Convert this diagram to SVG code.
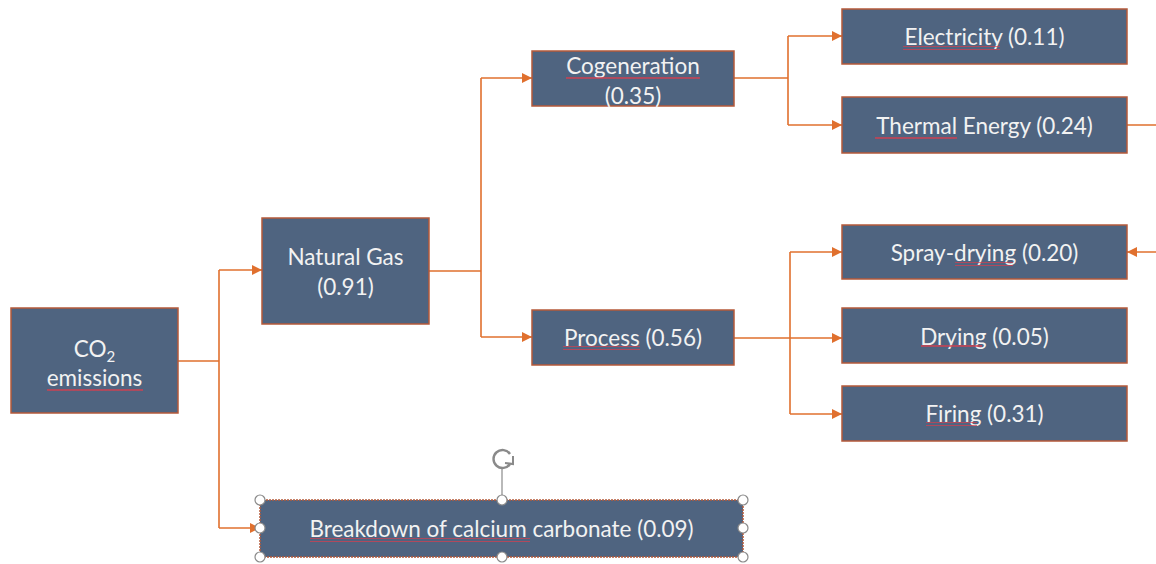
<svg xmlns="http://www.w3.org/2000/svg" width="1156" height="564" viewBox="0 0 1156 564">
<defs>
<style>
.box{fill:#4f6480;stroke:#b5593a;stroke-width:1.5}
.t{font-family:Lato,"Open Sans",sans-serif;font-size:22.5px;fill:#f2f2f2;text-anchor:middle}
.c{fill:none;stroke:#e0702e;stroke-width:1.6}
.h{fill:#ffffff;stroke:#8a8a8a;stroke-width:1.2}
</style>
<marker id="ar" viewBox="0 0 10 10" refX="10" refY="5" markerWidth="10" markerHeight="10" markerUnits="userSpaceOnUse" orient="auto">
<path d="M0,0 L10,5 L0,10 z" fill="#e0702e"/>
</marker>
<pattern id="wv" width="4" height="4" patternUnits="userSpaceOnUse">
<path d="M0,3 L1,1 L2,3 L3,1 L4,3" fill="none" stroke="#d04050" stroke-width="0.9"/>
</pattern>
</defs>
<rect width="1156" height="564" fill="#ffffff"/>

<g id="connectors">
<path class="c" d="M178,361 H219 M219,270 V528"/>
<path class="c" d="M219,270 H262" marker-end="url(#ar)"/>
<path class="c" d="M219,528 H260" marker-end="url(#ar)"/>
<path class="c" d="M429,271 H481 M481,78 V337"/>
<path class="c" d="M481,78 H532" marker-end="url(#ar)"/>
<path class="c" d="M481,337 H532" marker-end="url(#ar)"/>
<path class="c" d="M734,78 H788 M788,36 V125"/>
<path class="c" d="M788,36 H842" marker-end="url(#ar)"/>
<path class="c" d="M788,125 H842" marker-end="url(#ar)"/>
<path class="c" d="M734,338 H790 M790,252 V414"/>
<path class="c" d="M790,252 H842" marker-end="url(#ar)"/>
<path class="c" d="M790,338 H842" marker-end="url(#ar)"/>
<path class="c" d="M790,414 H842" marker-end="url(#ar)"/>
<path class="c" d="M1127,125 H1162 V252"/>
<path class="c" d="M1162,252 H1127" marker-end="url(#ar)"/>
</g>

<g id="co2">
<rect class="box" x="11" y="308" width="167" height="105"/>
<text class="t" x="94.5" y="357">CO<tspan font-size="15" dy="5">2</tspan></text>
<text class="t" x="94.5" y="386">emissions</text>
<rect x="47" y="388" width="96" height="4" fill="url(#wv)"/>
</g>

<g id="natural-gas">
<rect class="box" x="262" y="218" width="167" height="106"/>
<text class="t" x="345.5" y="265">Natural Gas</text>
<text class="t" x="345.5" y="295">(0.91)</text>
</g>

<g id="cogeneration">
<rect class="box" x="532" y="51" width="202" height="55"/>
<text class="t" x="633" y="74">Cogeneration</text>
<text class="t" x="633" y="104">(0.35)</text>
<rect x="566" y="75" width="134" height="4" fill="url(#wv)"/>
</g>

<g id="process">
<rect class="box" x="532" y="310" width="202" height="55"/>
<text class="t" x="633" y="346">Process (0.56)</text>
<rect x="563" y="346" width="77" height="4" fill="url(#wv)"/>
</g>

<g id="electricity">
<rect class="box" x="842" y="9" width="285" height="55"/>
<text class="t" x="984.5" y="45">Electricity (0.11)</text>
<rect x="903" y="46" width="97" height="4" fill="url(#wv)"/>
</g>

<g id="thermal-energy">
<rect class="box" x="842" y="97" width="285" height="56"/>
<text class="t" x="984.5" y="134">Thermal Energy (0.24)</text>
<rect x="875" y="135" width="82" height="4" fill="url(#wv)"/>
</g>

<g id="spray-drying">
<rect class="box" x="842" y="225" width="285" height="54"/>
<text class="t" x="984.5" y="261">Spray-drying (0.20)</text>
<rect x="955" y="262" width="58" height="4" fill="url(#wv)"/>
</g>

<g id="drying">
<rect class="box" x="842" y="308" width="285" height="55"/>
<text class="t" x="984.5" y="345">Drying (0.05)</text>
<rect x="921" y="345" width="61" height="4" fill="url(#wv)"/>
</g>

<g id="firing">
<rect class="box" x="842" y="386" width="285" height="55"/>
<text class="t" x="984.5" y="422">Firing (0.31)</text>
<rect x="926" y="422" width="51" height="4" fill="url(#wv)"/>
</g>

<g id="breakdown">
<rect class="box" x="260" y="500" width="483" height="57" stroke-dasharray="2 1"/>
<text class="t" x="501.5" y="537">Breakdown of calcium carbonate (0.09)</text>
<rect x="310" y="538" width="220" height="4" fill="url(#wv)"/>
<line x1="502" y1="469" x2="502" y2="500" stroke="#8a8a8a" stroke-width="1.2"/>
<path d="M510,464 A9,9 0 1 1 510,454" fill="none" stroke="#8a8a8a" stroke-width="2.4"/>
<path d="M505,463 L513,464 L513,456" fill="none" stroke="#8a8a8a" stroke-width="2"/>
<circle class="h" cx="260" cy="500" r="5"/>
<circle class="h" cx="502" cy="500" r="5"/>
<circle class="h" cx="743" cy="500" r="5"/>
<circle class="h" cx="260" cy="528" r="5"/>
<circle class="h" cx="743" cy="528" r="5"/>
<circle class="h" cx="260" cy="557" r="5"/>
<circle class="h" cx="502" cy="557" r="5"/>
<circle class="h" cx="743" cy="557" r="5"/>
</g>
</svg>
